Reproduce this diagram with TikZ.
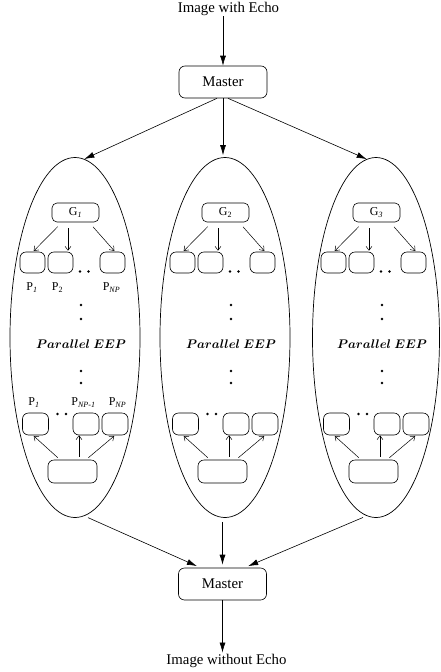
\RequirePackage{fix-cm}
\documentclass[tikz,border=0pt]{standalone}
\usepackage{fontspec}
\setmainfont{Liberation Serif}
\usepackage{bm}
\usetikzlibrary{arrows.meta,shapes.geometric}
\begin{document}
\begin{tikzpicture}[x=1pt,y=-1pt,
  bigfont/.style={font=\fontsize{14.8}{17}\selectfont},
  bigbox/.style={draw,rounded corners=6pt,minimum width=88pt,minimum height=32pt,inner sep=0pt,line width=0.6pt,bigfont},
  lbl/.style={inner sep=0pt,bigfont},
  grp/.style={draw,ellipse,inner sep=0pt,line width=0.7pt,minimum height=360pt},
  gbox/.style={draw,rounded corners=5pt,minimum width=47pt,minimum height=19pt,inner sep=0pt,line width=0.6pt,font=\fontsize{12}{14}\selectfont},
  sbox/.style={draw,rounded corners=6pt,minimum width=25pt,minimum height=21pt,inner sep=0pt,line width=0.6pt},
  qbox/.style={sbox,minimum width=26pt,minimum height=22pt},
  bbox/.style={draw,rounded corners=6pt,minimum width=49pt,minimum height=23pt,inner sep=0pt,line width=0.6pt},
  plbl/.style={inner sep=0pt,anchor=base,font=\fontsize{12}{14}\selectfont},
  eep/.style={inner sep=0pt,anchor=base,font=\fontsize{12.5}{14}\selectfont},
  pdot/.style={circle,fill,inner sep=0pt,minimum size=2.6pt},
  bigarrow/.style={-{Latex[length=10pt,width=6pt]},line width=0.6pt},
  smallarrow/.style={-{Straight Barb[length=4pt,width=6pt]},line width=0.5pt},
]
\useasboundingbox (0,0) rectangle (441,672);

\node[lbl,anchor=base] (in) at (228.5,12.7) {Image with Echo};
\node[bigbox] (m1) at (223,82) {Master};
\node[bigbox] (m2) at (222.5,584) {Master};
\node[lbl,anchor=base] (out) at (226.5,664) {Image without Echo};

\node[grp,minimum width=130pt] (e1) at (75,337.5) {};
\node[grp,minimum width=130pt] (e2) at (225,337.5) {};
\node[grp,minimum width=127pt] (e3) at (376,337.5) {};

\foreach \i/\dx in {1/0,2/150,3/301}{
  \node[sbox] (pa\i) at (32.5+\dx,262.5) {};
  \node[sbox] (pb\i) at (60.5+\dx,262.5) {};
  \node[sbox] (pc\i) at (112.5+\dx,262.5) {};
  \node[pdot] (da\i) at (80+\dx,271.5) {};
  \node[pdot] (db\i) at (88.5+\dx,271.5) {};
  \node[pdot] (dc\i) at (81+\dx,305) {};
  \node[pdot] (dd\i) at (81+\dx,319) {};
  \node[eep] (t\i) at (81+\dx,348.3) {$\bm{Parallel\ EEP}$};
  \node[pdot] (de\i) at (81+\dx,371) {};
  \node[pdot] (df\i) at (81+\dx,383) {};
  \node[pdot] (dg\i) at (57.5+\dx,414) {};
  \node[pdot] (dh\i) at (66+\dx,414) {};
  \node[qbox] (qa\i) at (35.5+\dx,424) {};
  \node[qbox] (qb\i) at (86+\dx,424) {};
  \node[qbox] (qc\i) at (115+\dx,424) {};
  \node[bbox] (b\i) at (72.5+\dx,471.5) {};
}
\node[gbox] (g1) at (75.5,212.5) {G\textsubscript{\textit{1}}};
\node[gbox] (g2) at (225.5,212.5) {G\textsubscript{2}};
\node[gbox] (g3) at (376.5,212.5) {G\textsubscript{\textit{3}}};

\foreach \i in {1,2,3}{
  \draw[smallarrow,shorten <=6pt,shorten >=1pt] ([xshift=-13.5pt]g\i.south) -- ([xshift=0.5pt]pa\i.north);
  \draw[smallarrow,shorten <=6pt,shorten >=1pt] ([xshift=-7.5pt]g\i.south) -- ([xshift=7.5pt]pb\i.north);
  \draw[smallarrow,shorten <=6pt,shorten >=1pt] ([xshift=13.5pt]g\i.south) -- ([xshift=2.5pt]pc\i.north);
  \draw[smallarrow,shorten <=3pt,shorten >=1pt] ([xshift=-12.5pt]b\i.north) -- ([xshift=-2.5pt]qa\i.south);
  \draw[smallarrow,shorten <=3pt,shorten >=0pt] ([xshift=6.5pt]b\i.north) -- ([xshift=-7pt]qb\i.south);
  \draw[smallarrow,shorten <=3pt,shorten >=1pt] ([xshift=13.5pt]b\i.north) -- ([xshift=0pt]qc\i.south);
}

\node[plbl] (l1) at (32,290.7) {P\textsubscript{\textit{1}}};
\node[plbl] (l2) at (57.5,290.7) {P\textsubscript{2}};
\node[plbl] (l3) at (111.5,290.7) {P\textsubscript{\textit{NP}}};
\node[plbl] (l4) at (34,405.7) {P\textsubscript{\textit{1}}};
\node[plbl] (l5) at (83.5,405.7) {P\textsubscript{\textit{NP-1}}};
\node[plbl] (l6) at (117.5,405.7) {P\textsubscript{\textit{NP}}};

\draw[bigarrow] (in.south -| m1.north) -- (m1.north);
\draw[bigarrow] ([xshift=-6pt]m1.south) -- (e1.87);
\draw[bigarrow,shorten >=2pt] (m1.south) -- (m1.south |- e2.north);
\draw[bigarrow] ([xshift=5pt]m1.south) -- (e3.93);
\draw[bigarrow,shorten <=4pt,shorten >=4pt] (e1.-87) -- ([xshift=-22pt]m2.north);
\draw[bigarrow,shorten <=4pt,shorten >=3pt] (e2.south -| m2.north) -- (m2.north);
\draw[bigarrow,shorten <=4pt,shorten >=4pt] (e3.-93) -- ([xshift=22pt]m2.north);
\draw[bigarrow,shorten >=1pt] (m2.south) -- (out.north -| m2.south);
\end{tikzpicture}
\end{document}
